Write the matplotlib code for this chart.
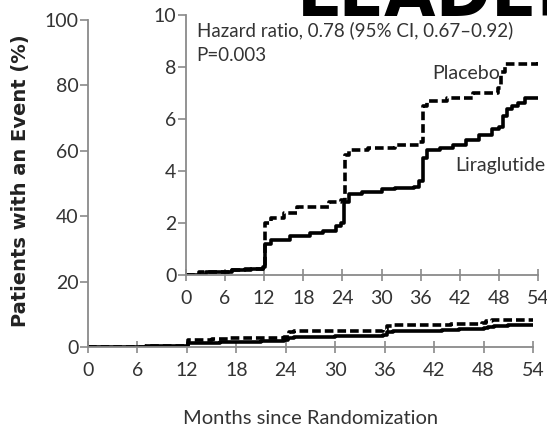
import matplotlib.pyplot as plt

# Kaplan-Meier style cumulative incidence (%)
months_placebo = [0, 2, 6, 7, 10, 11.8, 12.1, 13, 15, 17, 20, 22, 23.8, 24.4, 25, 28, 32, 35.8,
                  36.3, 37, 40, 44, 47.8, 48.3, 49, 54]
placebo = [0, 0.1, 0.1, 0.2, 0.25, 0.3, 2.0, 2.2, 2.4, 2.6, 2.6, 2.8, 2.9, 4.6, 4.8, 4.9, 5.0, 5.1,
           6.5, 6.7, 6.8, 7.0, 7.2, 7.8, 8.1, 8.2]

months_lira = [0, 3, 6, 7, 9, 11.8, 12.1, 13, 16, 19, 21, 23, 23.8, 24.3, 25, 27, 30, 32, 35, 35.8,
               36.3, 37, 39, 41, 43, 45, 47, 48, 48.6, 49.3, 50, 51, 52, 54]
liraglutide = [0, 0.1, 0.1, 0.2, 0.25, 0.3, 1.2, 1.35, 1.5, 1.6, 1.7, 1.9, 2.0, 2.8, 3.1, 3.2, 3.3,
               3.35, 3.4, 3.6, 4.5, 4.8, 4.9, 5.0, 5.2, 5.4, 5.6, 5.7, 6.1, 6.4, 6.5, 6.6, 6.8, 6.8]

x_ticks = [0, 6, 12, 18, 24, 30, 36, 42, 48, 54]
main_yticks = [0, 20, 40, 60, 80, 100]
inset_yticks = [0, 2, 4, 6, 8, 10]

label_font = ['Lato', 'DejaVu Sans']
spine_col = "#8a8a8a"
text_col = "#333333"

fig = plt.figure(figsize=(5.47, 4.32), dpi=100)
fig.patch.set_facecolor("white")

def style_axes(ax, fs):
    for side in ["top", "right"]:
        ax.spines[side].set_visible(False)
    for side in ["left", "bottom"]:
        ax.spines[side].set_color(spine_col)
        ax.spines[side].set_linewidth(1.3)
    ax.tick_params(axis="x", direction="inout", length=9, width=1.2, color=spine_col,
                   labelsize=fs, labelcolor=text_col, pad=6)
    ax.tick_params(axis="y", direction="out", length=6, width=1.2, color=spine_col,
                   labelsize=fs, labelcolor=text_col, pad=1)
    for lbl in ax.get_xticklabels() + ax.get_yticklabels():
        lbl.set_family(label_font)

dash = (0, (2.4, 1.1))

# main axes
ax = fig.add_axes([0.1609, 0.1968, 0.8135, 0.757])
ax.step(months_lira, liraglutide, where="post", color="black", lw=2.6)
ax.step(months_placebo, placebo, where="post", color="black", lw=2.6, linestyle=dash)
ax.set_xlim(0, 54)
ax.set_ylim(0, 100)
ax.set_xticks(x_ticks)
ax.set_yticks(main_yticks)
ax.patch.set_alpha(0)
style_axes(ax, 14)
fig.text(0.567, 0.032, "Months since Randomization", family=label_font, fontsize=14.5,
         color=text_col, ha="center", va="center")
fig.text(0.038, 0.581, "Patients with an Event (%)", rotation=90, ha="center", va="center",
         fontsize=14, fontweight="bold", color="#222222")

# inset axes
ins = fig.add_axes([0.340, 0.3634, 0.6435, 0.6019])
ins.step(months_lira, liraglutide, where="post", color="black", lw=2.6)
ins.step(months_placebo, placebo, where="post", color="black", lw=2.6, linestyle=dash)
ins.set_xlim(0, 54)
ins.set_ylim(0, 10)
ins.set_xticks(x_ticks)
ins.set_yticks(inset_yticks)
ins.set_facecolor("white")
style_axes(ins, 14)

ins.text(0.03, 0.942, "Hazard ratio, 0.78 (95% CI, 0.67\u20130.92)", transform=ins.transAxes,
         family=label_font, fontsize=13.5, color=text_col, va="center")
ins.text(0.03, 0.846, "P=0.003", transform=ins.transAxes,
         family=label_font, fontsize=13.5, color=text_col, va="center")
ins.text(0.70, 0.775, "Placebo", transform=ins.transAxes,
         family=label_font, fontsize=14, color=text_col, va="center")
ins.text(0.764, 0.423, "Liraglutide", transform=ins.transAxes,
         family=label_font, fontsize=14, color=text_col, va="center")

# cropped title text at the top edge
fig.text(0.543, 0.962, "LEADER", fontsize=48, fontweight="bold", color="black",
         ha="left", va="baseline")

fig.savefig("out.png", dpi=100)
